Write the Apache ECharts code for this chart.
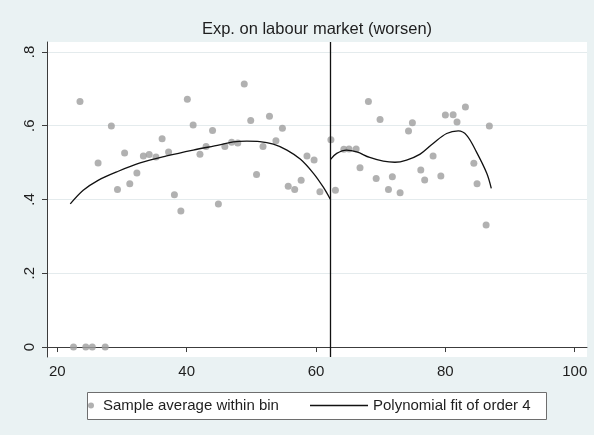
<!DOCTYPE html>
<html>
<head>
<meta charset="utf-8">
<script src="https://cdn.jsdelivr.net/npm/echarts@6/dist/echarts.min.js"></script>
<style>
  html, body { margin: 0; padding: 0; background: #eaf2f3; }
  #chart { width: 594px; height: 435px; }
</style>
</head>
<body>
<div id="chart"></div>
<script>
// Bin averages (age bins) of the share expecting the labour market to worsen
const binX = [22.5, 23.5, 24.4, 25.4, 26.3, 27.4, 28.35, 29.3, 30.4, 31.2, 32.3, 33.3, 34.2, 35.25, 36.2, 37.2, 38.1, 39.1, 40.1, 41.0, 42.05, 43.0, 44.0, 44.9, 45.9, 46.95, 47.9, 48.9, 49.9, 50.8, 51.8, 52.8, 53.8, 54.8, 55.7, 56.7, 57.7, 58.6, 59.7, 60.6, 62.3, 63.0, 64.3, 65.1, 66.2, 66.8, 68.1, 69.3, 69.9, 71.2, 71.8, 73.0, 74.3, 74.9, 76.2, 76.8, 78.1, 79.3, 80.0, 81.2, 81.8, 83.1, 84.4, 84.9, 86.3, 86.8];
const binY = [0, 0.666, 0, 0, 0.499, 0, 0.599, 0.427, 0.526, 0.443, 0.472, 0.518, 0.522, 0.515, 0.565, 0.529, 0.413, 0.369, 0.672, 0.602, 0.523, 0.544, 0.587, 0.388, 0.544, 0.555, 0.553, 0.713, 0.614, 0.468, 0.544, 0.626, 0.559, 0.593, 0.436, 0.427, 0.452, 0.518, 0.507, 0.421, 0.562, 0.425, 0.536, 0.537, 0.537, 0.486, 0.666, 0.457, 0.617, 0.427, 0.462, 0.418, 0.586, 0.608, 0.480, 0.453, 0.518, 0.464, 0.629, 0.630, 0.610, 0.651, 0.498, 0.443, 0.331, 0.599];

// Fitted polynomial, below the cutoff
const fitLeftX = [22.0, 24.0, 26.3, 29.2, 32.8, 36.9, 41.0, 45.1, 47.2, 49.3, 51.3, 53.4, 55.5, 57.6, 59.6, 61.1, 62.2];
const fitLeftY = [0.388, 0.425, 0.452, 0.475, 0.499, 0.518, 0.534, 0.548, 0.556, 0.558, 0.557, 0.550, 0.534, 0.509, 0.471, 0.434, 0.401];
// Fitted polynomial, above the cutoff
const fitRightX = [62.25, 63.2, 64.7, 66.3, 68.3, 70.4, 72.2, 74.0, 76.1, 78.1, 80.2, 82.0, 83.3, 84.8, 86.4, 87.1];
const fitRightY = [0.509, 0.525, 0.534, 0.529, 0.514, 0.504, 0.501, 0.507, 0.523, 0.552, 0.579, 0.586, 0.574, 0.529, 0.471, 0.430];

const cutoff = 62.25;
const xTicks = [20, 40, 60, 80, 100];
const yTicks = [0, 0.2, 0.4, 0.6, 0.8];

const FONT = '"Liberation Sans", Arial, sans-serif';
const TXT = '#1e1e1e';
const AXIS = '#3c3c3c';

const zip = (xs, ys) => xs.map((x, i) => [x, ys[i]]);

const chart = echarts.init(document.getElementById('chart'), null, { renderer: 'canvas' });

chart.setOption({
  animation: false,
  backgroundColor: '#eaf2f3',
  textStyle: { fontFamily: FONT },
  grid: {
    left: 47, right: 7, top: 42, bottom: 78,
    show: true, backgroundColor: '#ffffff', borderWidth: 0
  },
  xAxis: {
    type: 'value',
    min: 18.4, max: 101.9,
    axisLine: { show: true, lineStyle: { color: AXIS, width: 1 } },
    axisTick: { show: true, length: 5, lineStyle: { color: AXIS }, customValues: xTicks },
    axisLabel: { customValues: xTicks, color: TXT, fontSize: 15, fontFamily: FONT, margin: 7 },
    splitLine: { show: false }
  },
  yAxis: {
    type: 'value',
    min: -0.027, max: 0.827,
    axisLine: { show: true, lineStyle: { color: AXIS, width: 1 } },
    axisTick: { show: true, length: 5, lineStyle: { color: AXIS }, customValues: yTicks },
    axisLabel: {
      customValues: yTicks, color: TXT, fontSize: 15, fontFamily: FONT,
      rotate: 90, margin: 10,
      formatter: v => (v === 0 ? '0' : String(+v.toFixed(1)).replace(/^0\./, '.'))
    },
    splitLine: { show: true, lineStyle: { color: '#e4ebed', width: 1 } }
  },
  graphic: [
    {
      type: 'text', x: 317, y: 29, z: 10,
      style: {
        text: 'Exp. on labour market (worsen)',
        font: '16.5px ' + FONT, fill: TXT,
        textAlign: 'center', textVerticalAlign: 'middle'
      }
    },
    {
      type: 'rect', z: 0,
      shape: { x: 87.5, y: 392.5, width: 459, height: 27 },
      style: { fill: '#ffffff', stroke: '#6e6e6e', lineWidth: 1 }
    }
  ],
  legend: [
    {
      data: [{ name: 'Sample average within bin', icon: 'circle' }],
      left: 88, top: 398, padding: 0,
      itemWidth: 14, itemHeight: 6,
      textStyle: { color: TXT, fontSize: 15, fontFamily: FONT }
    },
    {
      data: [{ name: 'Polynomial fit of order 4', icon: 'rect', itemStyle: { color: '#111111' } }],
      left: 310, top: 398, padding: 0,
      itemWidth: 58, itemHeight: 1.4,
      textStyle: { color: TXT, fontSize: 15, fontFamily: FONT }
    }
  ],
  series: [
    {
      name: 'Sample average within bin',
      type: 'scatter',
      data: zip(binX, binY),
      symbol: 'circle', symbolSize: 7,
      itemStyle: { color: '#9e9e9e' },
      z: 3
    },
    {
      name: 'Polynomial fit of order 4',
      type: 'line',
      data: zip(fitLeftX, fitLeftY),
      symbol: 'none', smooth: 0.35,
      itemStyle: { color: '#111111' },
      lineStyle: { color: '#111111', width: 1.3 },
      z: 4,
      markLine: {
        silent: true, symbol: 'none', label: { show: false },
        lineStyle: { color: '#111111', width: 1.3, type: 'solid' },
        data: [{ xAxis: cutoff }]
      }
    },
    {
      name: 'Polynomial fit of order 4',
      type: 'line',
      data: zip(fitRightX, fitRightY),
      symbol: 'none', smooth: 0.35,
      itemStyle: { color: '#111111' },
      lineStyle: { color: '#111111', width: 1.3 },
      z: 4
    }
  ]
});
</script>
</body>
</html>
